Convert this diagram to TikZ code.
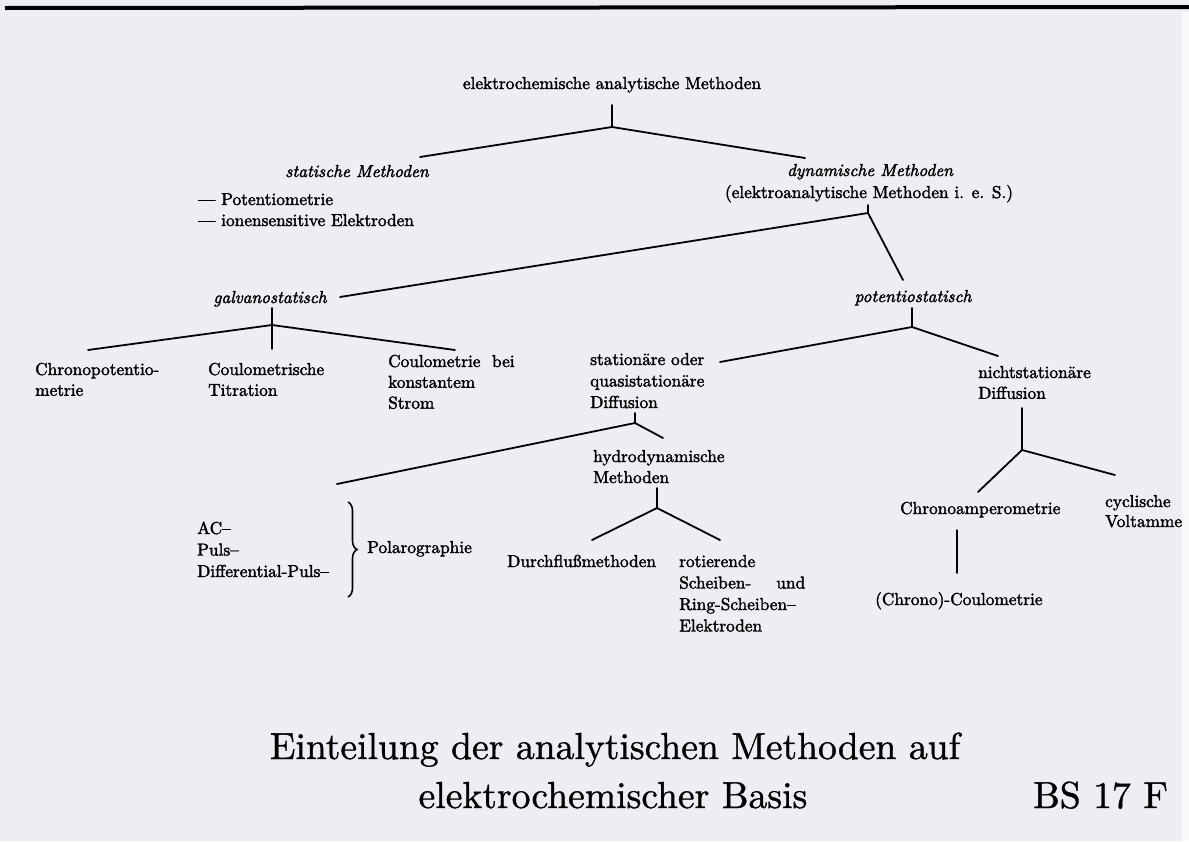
\documentclass[tikz,border=0pt]{standalone}
\usetikzlibrary{decorations.pathreplacing}
\definecolor{paper}{RGB}{239,237,244}
\definecolor{edge}{RGB}{250,250,252}
\font\bodyrm="[lmroman10-regular.otf]:embolden=2" at 17.3pt
\font\bodyit="[lmroman10-italic.otf]:embolden=2" at 17.3pt
\font\titlerm="[lmroman10-regular.otf]:embolden=1" at 37.6pt
\newcommand{\stk}[2][20.8pt]{\vtop{\baselineskip=#1\lineskiplimit=-20pt\lineskip=0pt\halign{##\hfil\cr#2\crcr}}}
\tikzset{
  lbl/.style={inner sep=0pt, anchor=base west, font=\bodyrm},
  lblc/.style={lbl, anchor=base},
  it/.style={font=\bodyit},
  conn/.style={line width=1.8pt, line cap=round, line join=round},
  ttl/.style={inner sep=0pt, anchor=base, font=\titlerm},
}
\begin{document}
\begin{tikzpicture}[x=1pt,y=-1pt]
\fill[paper] (0,0) rectangle (1189,841);
\useasboundingbox (0,0) rectangle (1189,841);

% root
\node[lblc] (root) at (612,89) {elektrochemische analytische Methoden};
\coordinate (rootT) at (612,105); \coordinate (rootJ) at (612,127);
\coordinate (statE) at (420,157); \coordinate (dynE) at (805,158);
\draw[conn] (rootT) -- (rootJ);
\draw[conn] (statE) -- (rootJ) -- (dynE);

% statische Methoden
\node[lblc,it] (stat) at (357,177) {statische Methoden};
\node[lbl] (pot) at (198,205) {— Potentiometrie};
\node[lbl] (ion) at (198,226) {— ionensensitive Elektroden};

% dynamische Methoden
\node[lblc,it] (dyn) at (870,176) {dynamische Methoden};
\node[lblc] (dyn2) at (869,198) {(elektroanalytische Methoden i. e. S.)};
\coordinate (dynT) at (868,205); \coordinate (dynJ) at (868,213);
\coordinate (galvE) at (340,297); \coordinate (potsE) at (903,280);
\draw[conn] (dynT) -- (dynJ);
\draw[conn] (galvE) -- (dynJ) -- (potsE);

% galvanostatisch
\node[lblc,it] (galv) at (270,303) {galvanostatisch};
\coordinate (galvT) at (272,308); \coordinate (galvJ) at (272,325);
\coordinate (galvM) at (272,349); \coordinate (galvL) at (88,350); \coordinate (galvR) at (455,350);
\draw[conn] (galvT) -- (galvM);
\draw[conn] (galvL) -- (galvJ) -- (galvR);
\node[lbl] (chrpot) at (35,375) {\stk{Chronopotentio-\cr metrie}};
\node[lbl] (coultit) at (208,375) {\stk{Coulometrische\cr Titration}};
\node[lbl] (coulstr) at (388,367) {\stk{Coulometrie\ \ bei\cr konstantem\cr Strom}};

% potentiostatisch
\node[lblc,it] (pots) at (913,302) {potentiostatisch};
\coordinate (potsT) at (912,308); \coordinate (potsJ) at (912,327);
\coordinate (potsL) at (720,362); \coordinate (potsR) at (998,356);
\draw[conn] (potsT) -- (potsJ);
\draw[conn] (potsL) -- (potsJ) -- (potsR);

% stationaere Diffusion
\node[lbl] (stdiff) at (590,365) {\stk[21.5pt]{stationäre oder\cr quasistationäre\cr Diffusion}};
\coordinate (stT) at (635,413); \coordinate (stJ) at (635,423);
\coordinate (stL) at (337,484); \coordinate (stR) at (663,438);
\draw[conn] (stT) -- (stJ);
\draw[conn] (stL) -- (stJ) -- (stR);

% Polarographie
\node[lbl] (pol) at (197,534) {\stk[21.5pt]{AC–\cr Puls–\cr Differential-Puls–}};
\coordinate (brT) at (348,502); \coordinate (brB) at (348,597);
\draw[line width=1.6pt, decorate, decoration={brace, amplitude=9pt}] (brT) -- (brB);
\node[lbl] (polname) at (367,553) {Polarographie};

% hydrodynamische Methoden
\node[lbl] (hydro) at (593,462) {\stk[21pt]{hydrodynamische\cr Methoden}};
\coordinate (hyT) at (657,488); \coordinate (hyJ) at (657,508);
\coordinate (hyL) at (592,540); \coordinate (hyR) at (720,540);
\draw[conn] (hyT) -- (hyJ);
\draw[conn] (hyL) -- (hyJ) -- (hyR);
\node[lbl] (durch) at (507,567) {Durchflußmethoden};
\node[lbl] (rot) at (679,567) {\stk[21.5pt]{rotierende\cr \hbox to 126pt{Scheiben-\hfil und}\cr Ring-Scheiben–\cr Elektroden}};

% nichtstationaere Diffusion
\node[lbl] (nsdiff) at (978,378) {\stk{nichtstationäre\cr Diffusion}};
\coordinate (nsT) at (1022,408); \coordinate (nsJ) at (1022,450);
\coordinate (nsL) at (978,492); \coordinate (nsR) at (1115,475);
\draw[conn] (nsT) -- (nsJ);
\draw[conn] (nsL) -- (nsJ) -- (nsR);
\node[lbl] (chramp) at (900,514) {Chronoamperometrie};
\node[lbl] (cyc) at (1105,507) {\stk[20pt]{cyclische\cr Voltammetrie}};
\coordinate (caT) at (957,530); \coordinate (caB) at (957,573);
\draw[conn] (caT) -- (caB);
\node[lbl] (chcoul) at (875,605) {(Chrono)-Coulometrie};

% caption
\node[ttl] (t1) at (615,759) {Einteilung der analytischen Methoden auf};
\node[ttl] (t2) at (613,808) {elektrochemischer Basis};
\node[ttl, anchor=base west] (bs) at (1033,808) {BS 17 F};

% scan edge and border
\fill[edge] (1182,12) rectangle (1189,841);
\coordinate (bl) at (5,8); \coordinate (br) at (1189,7);
\draw[line width=4pt] (bl) -- (br);
\end{tikzpicture}
\end{document}
